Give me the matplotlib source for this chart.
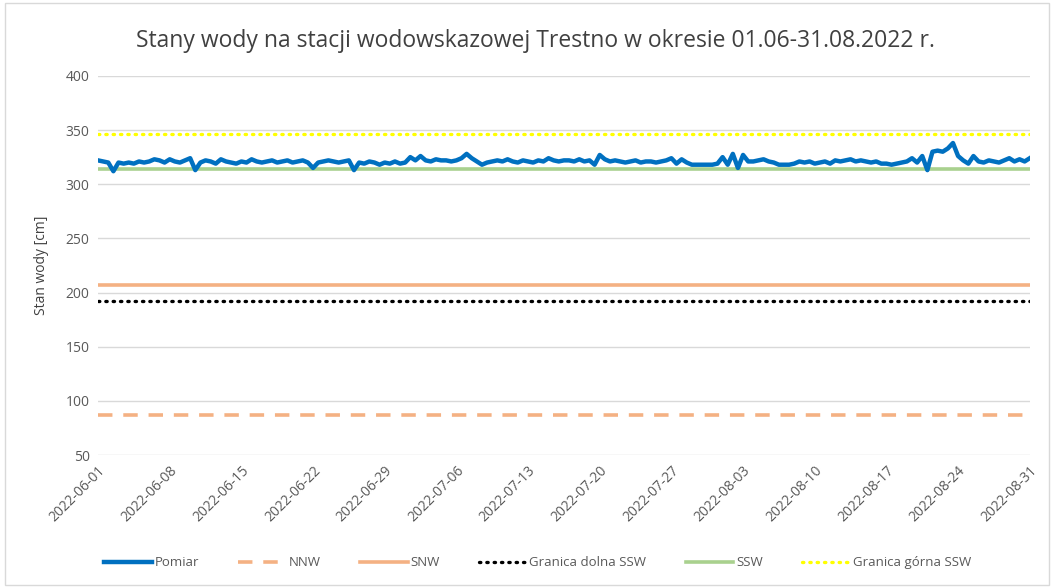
import numpy as np
import pandas as pd
import matplotlib
matplotlib.use("Agg")
import matplotlib.pyplot as plt
import matplotlib.dates as mdates
from matplotlib.patches import Rectangle

plt.rcParams['font.family'] = ['Open Sans', 'DejaVu Sans']

# pomiar co 12 h, od 2022-06-01 00:00
pomiar = [
    322, 321, 320, 312, 320, 319, 320, 319, 321, 320,
    321, 323, 322, 320, 323, 321, 320, 322, 324, 313,
    320, 322, 321, 319, 323, 321, 320, 319, 321, 320,
    323, 321, 320, 321, 322, 320, 321, 322, 320, 321,
    322, 320, 315, 320, 321, 322, 321, 320, 321, 322,
    313, 320, 319, 321, 320, 318, 320, 319, 321, 319,
    320, 325, 322, 326, 322, 321, 323, 322, 322, 321,
    322, 324, 328, 324, 321, 318, 320, 321, 322, 321,
    323, 321, 320, 322, 321, 320, 322, 321, 324, 322,
    321, 322, 322, 321, 323, 321, 322, 318, 327, 323,
    321, 322, 321, 320, 321, 322, 320, 321, 321, 320,
    321, 322, 324, 319, 323, 320, 318, 318, 318, 318,
    318, 319, 325, 318, 328, 315, 327, 321, 321, 322,
    323, 321, 320, 318, 318, 318, 319, 321, 320, 321,
    319, 320, 321, 319, 322, 321, 322, 323, 321, 322,
    321, 320, 321, 319, 319, 318, 319, 320, 321, 324,
    320, 326, 313, 330, 331, 330, 333, 338, 326, 322,
    319, 326, 321, 320, 322, 321, 320, 322, 324, 321,
    323, 321, 324,
]
daty = pd.date_range("2022-06-01", periods=len(pomiar), freq="12h")

NNW = 87
SNW = 207
granica_dolna = 192
SSW = 314
granica_gorna = 346

start = pd.Timestamp("2022-06-01")
koniec = pd.Timestamp("2022-08-31")
tick_daty = pd.date_range(start, koniec, freq="7D")

szary = "#595959"

fig = plt.figure(figsize=(10.54, 5.88), dpi=100)
ax = fig.add_axes([0.093, 0.226, 0.884, 0.645])

xs = [start, koniec]
ax.plot(daty, pomiar, color="#0070C0", lw=3.2, label="Pomiar", zorder=5,
        solid_joinstyle="round")
ax.plot(xs, [NNW] * 2, color="#F4B183", lw=2.6, ls=(0, (4, 3)), label="NNW")
ax.plot(xs, [SNW] * 2, color="#F4B183", lw=2.6, label="SNW")
ax.plot(xs, [granica_dolna] * 2, color="black", lw=2.4, ls=(0, (0.4, 1.8)),
        dash_capstyle="round", label="Granica dolna SSW")
ax.plot(xs, [SSW] * 2, color="#A9D18E", lw=2.6, label="SSW", zorder=4)
ax.plot(xs, [granica_gorna] * 2, color="#FFFF00", lw=2.4, ls=(0, (0.4, 1.8)),
        dash_capstyle="round", label="Granica górna SSW")

ax.set_xlim(start, koniec)
ax.set_ylim(50, 400)
ax.set_yticks(np.arange(50, 401, 50))
ax.set_xticks(tick_daty)
ax.xaxis.set_major_formatter(mdates.DateFormatter("%Y-%m-%d"))
plt.setp(ax.get_xticklabels(), rotation=45, ha="right", rotation_mode="anchor")
ax.tick_params(axis="both", length=0, labelsize=10, colors=szary, pad=6)
ax.grid(axis="y", color="#D9D9D9", lw=1)
ax.set_axisbelow(True)
for s in ax.spines.values():
    s.set_visible(False)

ax.set_ylabel("Stan wody [cm]", fontsize=10, color="#404040", labelpad=12)
fig.text(0.508, 0.93, "Stany wody na stacji wodowskazowej Trestno w okresie 01.06-31.08.2022 r.",
         ha="center", va="center", fontsize=16.5, color="#404040")

leg = fig.legend(loc="center", bbox_to_anchor=(0.51, 0.043), ncol=6, frameon=False,
                 fontsize=9.5, handlelength=3.6, columnspacing=3.0, handletextpad=0.2)
for t in leg.get_texts():
    t.set_color(szary)

fig.patches.append(Rectangle((0.005, 0.005), 0.99, 0.99, transform=fig.transFigure,
                             fill=False, edgecolor="#D9D9D9", lw=1))

fig.savefig("out.png", dpi=100)
